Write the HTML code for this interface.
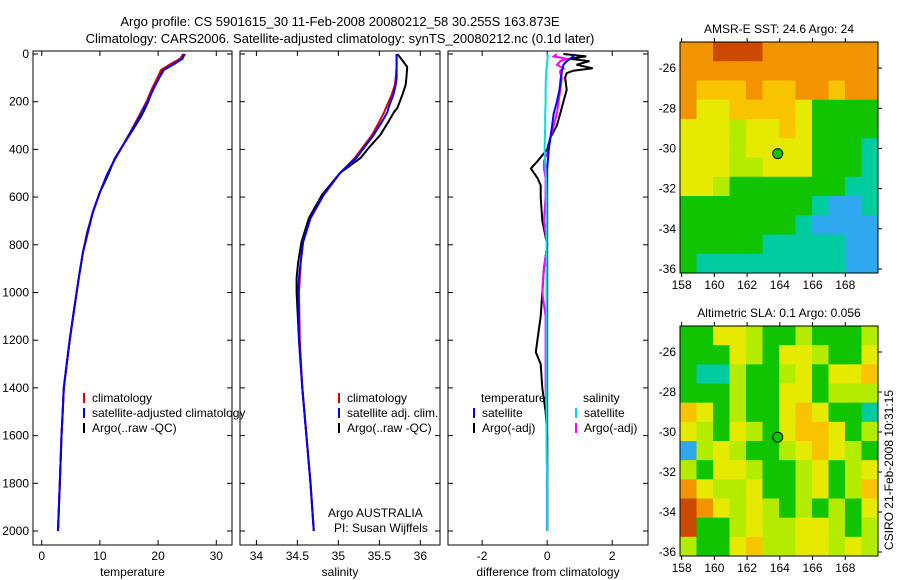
<!DOCTYPE html>
<html><head><meta charset="utf-8"><style>
body{margin:0;background:#fff}
svg{display:block;font-family:"Liberation Sans",sans-serif}
</style></head><body>
<svg id="c" width="900" height="580" viewBox="0 0 900 580">
<text x="340" y="26" font-size="13" text-anchor="middle">Argo profile: CS 5901615_30 11-Feb-2008 20080212_58 30.255S 163.873E</text>
<text x="340" y="43" font-size="13" text-anchor="middle">Climatology: CARS2006. Satellite-adjusted climatology: synTS_20080212.nc (0.1d later)</text>
<text x="893" y="470" font-size="12" text-anchor="middle" transform="rotate(-90 893 470)">CSIRO 21-Feb-2008 10:31:15</text>
<text x="328" y="517" font-size="12">Argo AUSTRALIA</text>
<text x="334" y="532" font-size="12">PI: Susan Wijffels</text>
</svg>
<script>
// ---- data ----
const depthT=[0,20,40,67,100,142,200,256,320,381,440,507,580,662,750,830,920,1000,1100,1200,1300,1400,1500,1600,1800,2000];
const tempClim=[24.3,23.8,22.3,20.5,19.9,19.0,18.0,16.8,15.4,14.0,12.6,11.2,10.0,8.8,7.9,7.1,6.5,6.0,5.4,4.8,4.3,3.8,3.6,3.4,3.1,2.8];
const tempSat=[24.6,24.1,22.9,21.0,20.2,19.3,18.2,17.0,15.5,14.0,12.6,11.2,10.0,8.8,7.9,7.1,6.5,6.0,5.4,4.8,4.3,3.8,3.6,3.4,3.1,2.8];
const tempArgo=[24.5,24.2,22.8,20.8,19.9,19.1,18.3,17.2,15.6,14.0,12.5,11.4,10.0,8.8,7.8,7.1,6.5,6.0,5.4,4.8,4.3,3.8,3.6,3.4,3.1,2.8];
const depthS=[0,17,54,100,130,172,226,243,290,340,390,436,499,591,688,788,872,939,1000,1200,1400,1600,1800,2000];
const salClim=[35.71,35.71,35.71,35.70,35.69,35.65,35.58,35.56,35.49,35.41,35.30,35.20,35.02,34.82,34.66,34.57,34.54,34.53,34.52,34.53,34.56,34.61,34.66,34.70];
const salSat=[35.71,35.71,35.71,35.71,35.70,35.67,35.61,35.60,35.52,35.43,35.32,35.22,35.02,34.82,34.66,34.57,34.54,34.52,34.51,34.52,34.56,34.61,34.66,34.70];
const salArgo=[35.72,35.76,35.84,35.83,35.82,35.78,35.72,35.68,35.60,35.51,35.38,35.27,35.02,34.80,34.64,34.55,34.51,34.49,34.49,34.52,34.56,34.61,34.66,34.70];
const depthD=[0,10,20,30,45,60,70,80,100,150,200,250,300,350,400,450,480,520,550,600,700,800,900,1000,1100,1200,1250,1300,1400,1500,1600,1800,2000];
const dTempSat=[0.85,0.8,0.7,0.6,0.5,0.48,0.45,0.45,0.42,0.38,0.3,0.2,0.15,0.1,0.05,0.02,0,0,0,0,0,0,0,0,0,0,0,0,0,0,0,0,0];
const dTempArgo=[0.5,1.2,0.7,1.3,0.9,1.4,0.8,0.6,0.55,0.6,0.5,0.4,0.3,0.1,0,-0.3,-0.5,-0.3,-0.2,-0.2,-0.15,0,-0.1,-0.15,-0.2,-0.3,-0.35,-0.2,-0.15,-0.05,0,0,0];
const dSalSat=[0.02,0.02,0.01,0,0,-0.02,-0.03,-0.03,-0.04,-0.05,-0.05,-0.06,-0.06,-0.07,-0.08,-0.06,-0.05,-0.04,-0.03,-0.02,-0.02,-0.02,-0.02,-0.02,-0.02,-0.02,-0.02,-0.02,-0.02,-0.02,-0.02,0,0];
const dSalArgo=[0.3,0.2,0.6,0.4,0.3,0.5,0.4,0.4,0.45,0.4,0.35,0.3,0.2,0.1,0.05,-0.1,-0.1,-0.05,-0.05,-0.05,-0.1,0,-0.1,-0.15,-0.05,-0.05,-0.05,-0.05,-0.05,-0.02,-0.02,0,0];
const sstRows=["OORRROOOOOOO","OOOOOOOOOOOO","OYYYOYYOOYOO","OyyYYYYyGGGG","yyyLyyYyGGGG","yyyLyyyyGGGC","yyyLLyyyGGGC","yyLGGGGGGGCC","GGGGGGGGCBBC","GGGGGGGCBBBB","GGGGGCCCCCBB","GCCCCCCCCCBB"];
const slaRows=["GGyyLGGLGGGL","GGGyLGyyLGGy","GCCLGGLyGyyY","GGGLGGyyGLLL","YyGLGGyYyGGC","yLGyLGyYYyGL","BLyLGGLyYyLG","LGyyLGGLyGLy","OyLLyGGLyGLY","ROyLyLGLGLGy","RGGLyLLyyLGL","LGGyYLLyyLyL"];
const xTicksT=[0,10,20,30], xTicksS=[34,34.5,35,35.5,36], xTicksD=[-2,0,2];
const yTicks=[0,200,400,600,800,1000,1200,1400,1600,1800,2000];
const lonTicks=[158,160,162,164,166,168], latTicks=[-26,-28,-30,-32,-34,-36];
const argoLon=163.873, argoLat=-30.255;
// ---- drawing ----
const svg=document.getElementById('c'),NS='http://www.w3.org/2000/svg';
function mk(t,a,p){const e=document.createElementNS(NS,t);for(const k in a)e.setAttribute(k,a[k]);(p||svg).appendChild(e);return e;}
const Y=d=>54+d*0.2385;
function panel(name,x0,x1,xmin,xmax,xt,xlabel,showY){
  const X=v=>x0+(v-xmin)/(xmax-xmin)*(x1-x0);
  const g=mk('g',{});
  
  
  const r=mk('rect',{x:x0,y:51,width:x1-x0,height:494,fill:'none',stroke:'#000'},g);
  
  
  xt.forEach(v=>{const x=X(v);mk('line',{x1:x,x2:x,y1:545,y2:540,stroke:'#000'},g);mk('line',{x1:x,x2:x,y1:51,y2:56,stroke:'#000'},g);
    const t=mk('text',{x:x,y:560,'font-size':12,'text-anchor':'middle'},g);t.textContent=v;
    
    });
  yTicks.forEach(d=>{const y=Y(d);mk('line',{x1:x0,x2:x0+5,y1:y,y2:y,stroke:'#000'},g);mk('line',{x1:x1,x2:x1-5,y1:y,y2:y,stroke:'#000'},g);
    if(showY){const t=mk('text',{x:x0-4,y:y+4,'font-size':12,'text-anchor':'end'},g);t.textContent=d;
    
    }});
  const l=mk('text',{x:(x0+x1)/2,y:576,'font-size':12,'text-anchor':'middle'},g);l.textContent=xlabel;
  
  
  return {X,g};
}
function line(p,depths,vals,col,name,w){
  const pts=depths.map((d,i)=>p.X(vals[i]).toFixed(1)+','+Y(d).toFixed(1)).join(' ');
  const e=mk('polyline',{points:pts,fill:'none',stroke:col,'stroke-width':w||2},p.g);
  
  
}
function legend(g,x,y,col,txt,name){
  mk('line',{x1:x,x2:x,y1:y-9,y2:y+1,stroke:col,'stroke-width':2},g);
  const t=mk('text',{x:x+8,y:y,'font-size':12},g);t.textContent=txt;
  
  
}
const p1=panel('temperature',33,232,-1.5,32.7,xTicksT,'temperature',true);
line(p1,depthT,tempArgo,'#000','temp-argo-line');
line(p1,depthT,tempClim,'#e00000','temp-climatology-line');
line(p1,depthT,tempSat,'#0000ff','temp-satellite-line');
legend(p1.g,84,402,'#e00000','climatology','legend-climatology');
legend(p1.g,84,417,'#0000ff','satellite-adjusted climatology','legend-satellite');
legend(p1.g,84,432,'#000','Argo(..raw -QC)','legend-argo');
const p2=panel('salinity',240,440,33.8,36.24,xTicksS,'salinity',false);
line(p2,depthS,salArgo,'#000','sal-argo-line');
line(p2,depthS,salClim,'#e00000','sal-climatology-line');
line(p2,depthS,salSat,'#0000ff','sal-satellite-line');
legend(p2.g,339,402,'#e00000','climatology','legend2-climatology');
legend(p2.g,339,417,'#0000ff','satellite adj. clim.','legend2-satellite');
legend(p2.g,339,432,'#000','Argo(..raw -QC)','legend2-argo');
const p3=panel('difference',448,648,-3.05,3.1,xTicksD,'difference from climatology',false);
line(p3,depthD,dTempArgo,'#000','diff-temp-argo-line');
line(p3,depthD,dSalArgo,'#ff00ff','diff-sal-argo-line');
line(p3,depthD,dTempSat,'#0000ff','diff-temp-satellite-line');
line(p3,depthD,dSalSat,'#00e0e0','diff-sal-satellite-line');
{const t=mk('text',{x:481,y:402,'font-size':12},p3.g);t.textContent='temperature';


const s=mk('text',{x:583,y:402,'font-size':12},p3.g);s.textContent='salinity';

}
legend(p3.g,474,417,'#0000ff','satellite','legend3-temp-satellite');
legend(p3.g,474,432,'#000','Argo(-adj)','legend3-temp-argo');
legend(p3.g,576,417,'#00e0e0','satellite','legend3-sal-satellite');
legend(p3.g,576,432,'#ff00ff','Argo(-adj)','legend3-sal-argo');
const cmap={R:'#cc4a00',O:'#f29400',Y:'#f8c400',y:'#e6ea00',L:'#b4ec00',G:'#10c400',C:'#00cca0',B:'#30a8f0'};
function map(name,rows,x0,y0,x1,y1,title){
  const g=mk('g',{});
  
  
  const lonMin=157.9,lonMax=170,latMax=-24.7,latMin=-36.2;
  const X=v=>x0+(v-lonMin)/(lonMax-lonMin)*(x1-x0);
  const Yl=v=>y0+(latMax-v)/(latMax-latMin)*(y1-y0);
  const nr=rows.length,nc=rows[0].length,cw=(x1-x0)/nc,ch=(y1-y0)/nr;
  rows.forEach((row,i)=>[...row].forEach((c,j)=>{
    const r=mk('rect',{x:x0+j*cw,y:y0+i*ch,width:cw+0.5,height:ch+0.5,fill:cmap[c]},g);
    
    }));
  mk('rect',{x:x0,y:y0,width:x1-x0,height:y1-y0,fill:'none',stroke:'#000'},g);
  lonTicks.forEach(v=>{const x=X(v);mk('line',{x1:x,x2:x,y1:y1,y2:y1+4,stroke:'#000'},g);mk('line',{x1:x,x2:x,y1:y0,y2:y0-4,stroke:'#000'},g);
    const t=mk('text',{x:x,y:y1+16,'font-size':12,'text-anchor':'middle'},g);t.textContent=v;
    
    });
  latTicks.forEach(v=>{const y=Yl(v);mk('line',{x1:x1,x2:x1+4,y1:y,y2:y,stroke:'#000'},g);
    const t=mk('text',{x:x0-4,y:y+4,'font-size':12,'text-anchor':'end'},g);t.textContent=v;
    
    });
  const c=mk('circle',{cx:X(argoLon),cy:Yl(argoLat),r:5,fill:'#10c400',stroke:'#000'},g);
  
  
  const t=mk('text',{x:(x0+x1)/2,y:y0-9,'font-size':12,'text-anchor':'middle'},g);t.textContent=title;
  
  
}
map('sst-map',sstRows,680,42,878,273,'AMSR-E SST: 24.6 Argo: 24');
map('sla-map',slaRows,680,326,878,556,'Altimetric SLA: 0.1 Argo: 0.056');
</script>
</body></html>
